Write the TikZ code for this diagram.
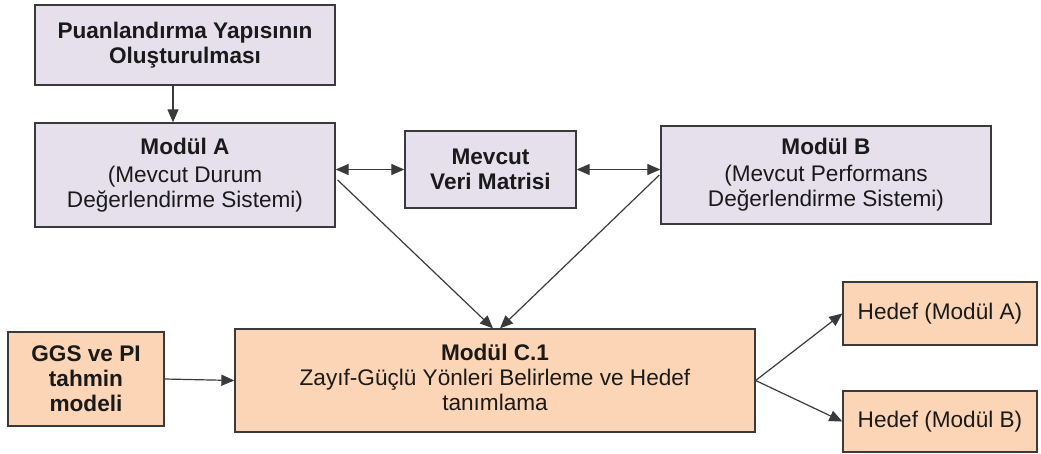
\documentclass[tikz,border=0pt]{standalone}
\usepackage{fontspec}
\setmainfont{Liberation Sans}
\usetikzlibrary{arrows.meta,calc}
\definecolor{lav}{HTML}{E5E0EC}
\definecolor{peach}{HTML}{FBD5B5}
\definecolor{edge}{HTML}{3A3A3A}
\definecolor{txt}{HTML}{1A1A1A}
\begin{document}
\begin{tikzpicture}[x=1pt,y=-1pt,
  box/.style={draw=edge,line width=1.3pt,rectangle,inner sep=0pt,align=center,text=txt,
    font=\fontsize{22.6}{25}\selectfont},
  lbox/.style={box,fill=lav},
  pbox/.style={box,fill=peach},
  conn/.style={draw=edge,line width=1.2pt,-{Triangle[length=13pt,width=11pt]}},
  dconn/.style={draw=edge,line width=1.2pt,{Triangle[length=13pt,width=11pt]}-{Triangle[length=13pt,width=11pt]}}]
\useasboundingbox (0,0) rectangle (1041,454);
\node[lbox,minimum width=300pt,minimum height=80pt] (p) at (185,45) {\textbf{Puanlandırma Yapısının}\\\textbf{Oluşturulması}};
\node[lbox,minimum width=300pt,minimum height=104pt] (a) at (185,175) {\textbf{Modül A}\\[3pt](Mevcut Durum\\Değerlendirme Sistemi)};
\node[lbox,minimum width=171pt,minimum height=77pt] (v) at (490.5,169.5) {\textbf{Mevcut}\\\textbf{Veri Matrisi}};
\node[lbox,minimum width=330pt,minimum height=98pt] (b) at (826,175) {\textbf{Modül B}\\[2pt](Mevcut Performans\\Değerlendirme Sistemi)};
\node[pbox,minimum width=156pt,minimum height=94pt] (g) at (86,379) {\textbf{GGS ve PI}\\\textbf{tahmin}\\\textbf{modeli}};
\node[pbox,minimum width=520pt,minimum height=103pt,text depth=6pt] (c) at (495,380.5) {\textbf{Modül C.1}\\Zayıf-Güçlü Yönleri Belirleme ve Hedef\\tanımlama};
\node[pbox,minimum width=194pt,minimum height=63pt] (ha) at (940,313.5) {Hedef (Modül A)};
\node[pbox,minimum width=194pt,minimum height=61pt] (hb) at (940,421.5) {Hedef (Modül B)};
\draw[conn] ($(p.south)+(-12,0)$) -- ($(a.north)+(-12,0)$);
\draw[dconn] (v.west -| a.east) -- (v.west);
\draw[dconn] (v.east) -- (v.east -| b.west);
\draw[conn] ($(a.east)+(2,5)$) -- ($(c.north)+(-2,0)$);
\draw[conn] ($(b.west)+(-1,0)$) -- ($(c.north)+(5,0)$);
\draw[conn] (g.east) -- (c.west);
\draw[conn] (c.east) -- (ha.west);
\draw[conn] (c.east) -- (hb.west);
\end{tikzpicture}
\end{document}
